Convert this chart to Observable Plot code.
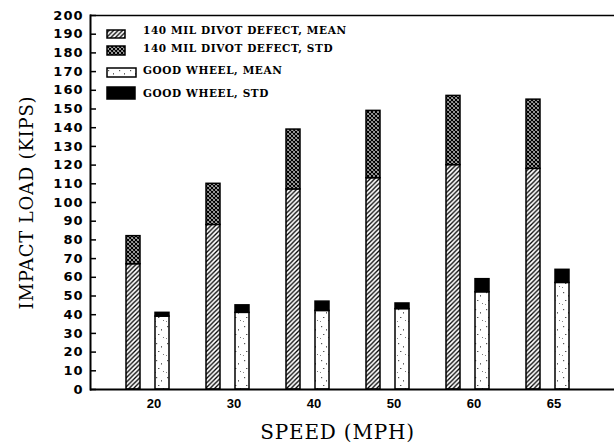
<!DOCTYPE html>
<html><head><meta charset="utf-8">
<script src="https://cdn.jsdelivr.net/npm/d3@7"></script>
<script src="https://cdn.jsdelivr.net/npm/@observablehq/plot@0.6"></script>
<style>
html,body{margin:0;padding:0;background:#fff;}
#wrap{position:relative;width:614px;height:443px;}
.lg-row{position:absolute;height:14px;line-height:14px;font-family:"DejaVu Serif";font-weight:bold;font-size:10.5px;letter-spacing:0.6px;color:#000;white-space:nowrap;}
.lg-sw{position:absolute;}
</style></head><body>
<svg width="0" height="0" style="position:absolute">
 <defs>
  <pattern id="hatch" patternUnits="userSpaceOnUse" width="4.5" height="4.5">
    <rect width="4.5" height="4.5" fill="white"/>
    <path d="M-1,1 l2,-2 M0,4.5 l4.5,-4.5 M3.5,5.5 l2,-2" stroke="black" stroke-width="1.3"/>
  </pattern>
  <pattern id="cross" patternUnits="userSpaceOnUse" width="4" height="4">
    <rect width="4" height="4" fill="white"/>
    <path d="M-1,1 l2,-2 M0,4 l4,-4 M3,5 l2,-2 M-1,3 l2,2 M0,0 l4,4 M3,-1 l2,2" stroke="black" stroke-width="1.3"/>
  </pattern>
  <pattern id="speck" patternUnits="userSpaceOnUse" width="11" height="17">
    <rect width="11" height="17" fill="white"/>
    <rect x="2" y="3" width="1.2" height="1.2" fill="#555"/>
    <rect x="7" y="6" width="1" height="1.6" fill="#666"/>
    <rect x="4" y="11" width="1.4" height="1" fill="#555"/>
    <rect x="9" y="14" width="1" height="1" fill="#777"/>
    <rect x="1" y="15" width="1" height="1" fill="#888"/>
  </pattern>
 </defs>
</svg>
<div id="wrap"></div>
<script>
// ---- data ----
const speeds = ["20", "30", "40", "50", "60", "65"];
const defectMean = [67, 88, 107, 113, 120, 118];
const defectStd = [15, 22, 32, 36, 37, 37];
const goodMean = [39, 41, 42, 43, 52, 57];
const goodStd = [2, 4, 5, 3, 7, 7];
const yTicks = [0,10,20,30,40,50,60,70,80,90,100,110,120,130,140,150,160,170,180,190,200];
const legendLabels = ["140 MIL DIVOT DEFECT, MEAN", "140 MIL DIVOT DEFECT, STD", "GOOD WHEEL, MEAN", "GOOD WHEEL, STD"];
const xTitle = "SPEED (MPH)";
const yTitle = "IMPACT LOAD (KIPS)";

// ---- build table ----
const rows = speeds.map((s, i) => ({
  speed: s,
  dm: defectMean[i], dtop: defectMean[i] + defectStd[i],
  gm: goodMean[i], gtop: goodMean[i] + goodStd[i]
}));

const fills = ["url(#hatch)", "url(#cross)", "url(#speck)", "#000"];

const chart = Plot.plot({
  width: 614,
  height: 443,
  marginLeft: 90,
  marginRight: 0,
  marginTop: 15,
  marginBottom: 54,
  style: {background: "white", overflow: "visible"},
  x: {type: "band", domain: speeds, padding: 0.457, range: [86, 609]},
  y: {domain: [0, 200]},
  marks: [
    Plot.barY(rows, {x: "speed", y1: 0, y2: "dm", fill: fills[0], stroke: "black", strokeWidth: 1.5, insetRight: 29}),
    Plot.barY(rows, {x: "speed", y1: "dm", y2: "dtop", fill: fills[1], stroke: "black", strokeWidth: 1.5, insetRight: 29}),
    Plot.barY(rows, {x: "speed", y1: 0, y2: "gm", fill: fills[2], stroke: "black", strokeWidth: 1.5, insetLeft: 29}),
    Plot.barY(rows, {x: "speed", y1: "gm", y2: "gtop", fill: fills[3], stroke: "black", strokeWidth: 1.5, insetLeft: 29}),
    Plot.ruleY([0], {stroke: "black", strokeWidth: 2}),
    Plot.ruleY([200], {stroke: "black", strokeWidth: 1.5}),
    Plot.frame({anchor: "left", stroke: "black", strokeWidth: 2}),
    Plot.axisY(yTicks, {tickSize: -6, tickPadding: 13, strokeWidth: 1.5, tickFormat: d => String(d),
      fontFamily: "DejaVu Sans", fontWeight: "bold", fontSize: 13, label: null, fill: "black"}),
    Plot.axisX({tickSize: 0, tickPadding: 9, dx: 6, label: null,
      fontFamily: "Liberation Sans", fontWeight: "bold", fontSize: 13, fill: "black"}),
    Plot.text([xTitle], {frameAnchor: "bottom", dy: 43, dx: -15, lineAnchor: "middle", textAnchor: "middle",
      fontFamily: "DejaVu Serif", fontSize: 20, fill: "black"}),
    Plot.text([yTitle], {frameAnchor: "left", dx: -63, rotate: -90, lineAnchor: "middle", textAnchor: "middle",
      fontFamily: "DejaVu Serif", fontSize: 18, fill: "black"})
  ]
});
d3.select(chart).selectAll("[aria-label='y-axis tick label'] text").style("letter-spacing", "1px");
d3.select(chart).selectAll("[aria-label='text'] text").style("letter-spacing", "0.8px");
const wrap = document.getElementById("wrap");
wrap.appendChild(chart);

// ---- legend (overlay, top-left inside the frame) ----
const lgCenters = [30, 47.5, 69.5, 93];
const lgSw = [[18, 8], [18, 9], [29, 9], [28, 12]];
legendLabels.forEach((lab, i) => {
  const [w, h] = lgSw[i];
  const sw = document.createElement("div");
  sw.className = "lg-sw";
  sw.style.left = "106px";
  sw.style.top = (lgCenters[i] - h / 2 - 1) + "px";
  sw.innerHTML = `<svg width="${w + 2}" height="${h + 2}"><rect x="1" y="1" width="${w}" height="${h}" fill="${fills[i]}" stroke="black" stroke-width="1.5"/></svg>`;
  wrap.appendChild(sw);
  const t = document.createElement("div");
  t.className = "lg-row";
  t.style.left = "143px";
  t.style.top = (lgCenters[i] - 7) + "px";
  t.textContent = lab;
  wrap.appendChild(t);
});
</script>
</body></html>
